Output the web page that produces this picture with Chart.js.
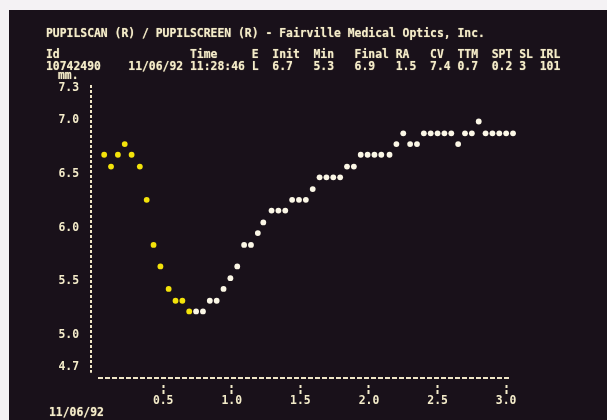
<!DOCTYPE html>
<html>
<head>
<meta charset="utf-8">
<script src="https://cdn.jsdelivr.net/npm/chart.js@4/dist/chart.umd.min.js"></script>
<style>
html, body { margin: 0; padding: 0; background: #fff; }
#wrap { position: relative; width: 607px; height: 420px; overflow: hidden; background: #f4f2f4; }
#screen { position: absolute; left: 9px; top: 10px; width: 598px; height: 410px; background: #19111a; }
#myChart { position: absolute; left: 0; top: 0; }
pre {
    position: absolute; margin: 0;
    font-family: "DejaVu Sans Mono", "Liberation Mono", monospace;
    font-weight: bold; font-size: 11.4px; line-height: 12px;
    color: #f4ecca; text-shadow: 0 0 1px rgba(255, 240, 190, 0.6);
}
</style>
</head>
<body>
<div id="wrap">
    <div id="screen"></div>
    <canvas id="myChart" width="607" height="420"></canvas>
    <pre style="left:46px;top:27px">PUPILSCAN (R) / PUPILSCREEN (R) - Fairville Medical Optics, Inc.</pre>
    <pre style="left:46px;top:48px">Id                   Time     E  Init  Min   Final RA   CV  TTM  SPT SL IRL
10742490    11/06/92 11:28:46 L  6.7   5.3   6.9   1.5  7.4 0.7  0.2 3  101</pre>
    <pre style="left:58px;top:69px">mm.</pre>
    <pre style="left:49px;top:406px">11/06/92</pre>
</div>
<script>
// time (s) and pupil diameter (mm) for each sample
const times = [0.07, 0.12, 0.17, 0.22, 0.27, 0.33, 0.38, 0.43, 0.48, 0.54,
    0.59, 0.64, 0.69, 0.74, 0.79, 0.84, 0.89, 0.94, 0.99, 1.04,
    1.09, 1.14, 1.19, 1.23, 1.29, 1.34, 1.39, 1.44, 1.49, 1.54,
    1.59, 1.64, 1.69, 1.74, 1.79, 1.84, 1.89, 1.94, 1.99, 2.04,
    2.09, 2.15, 2.20, 2.25, 2.30, 2.35, 2.40, 2.45, 2.50, 2.55,
    2.60, 2.65, 2.70, 2.75, 2.80, 2.85, 2.90, 2.95, 3.00, 3.05];
const diameters = [6.68, 6.57, 6.68, 6.78, 6.68, 6.57, 6.26, 5.84, 5.64, 5.43,
    5.32, 5.32, 5.22, 5.22, 5.22, 5.32, 5.32, 5.43, 5.53, 5.64,
    5.84, 5.84, 5.95, 6.05, 6.16, 6.16, 6.16, 6.26, 6.26, 6.26,
    6.36, 6.47, 6.47, 6.47, 6.47, 6.57, 6.57, 6.68, 6.68, 6.68,
    6.68, 6.68, 6.78, 6.88, 6.78, 6.78, 6.88, 6.88, 6.88, 6.88,
    6.88, 6.78, 6.88, 6.88, 6.99, 6.88, 6.88, 6.88, 6.88, 6.88];
const constrictionSamples = 13; // first samples shown in yellow
const xTicks = [0.5, 1.0, 1.5, 2.0, 2.5, 3.0];
const yTicks = [4.7, 5.0, 5.5, 6.0, 6.5, 7.0, 7.3];

const textColor = '#f4ecca';
const axisColor = '#efe6c6';
const monoFont = { family: '"DejaVu Sans Mono", "Liberation Mono", monospace', size: 11.4, weight: 'bold' };

const points = times.map((t, i) => ({ x: t, y: diameters[i] }));

// the screen draws its axes as dotted character lines, Chart.js borders are solid
const dashedAxes = {
    id: 'dashedAxes',
    beforeDatasetsDraw(chart) {
        const { ctx, chartArea, scales } = chart;
        ctx.save();
        ctx.strokeStyle = axisColor;
        ctx.lineWidth = 2;
        ctx.setLineDash([3, 2]);
        ctx.beginPath();
        ctx.moveTo(chartArea.left, chartArea.top);
        ctx.lineTo(chartArea.left, scales.y.getPixelForValue(4.65));
        ctx.stroke();
        ctx.setLineDash([5, 2]);
        ctx.beginPath();
        ctx.moveTo(scales.x.getPixelForValue(0.025), chartArea.bottom);
        ctx.lineTo(chartArea.right, chartArea.bottom);
        ctx.stroke();
        ctx.restore();
    }
};

const ctx = document.getElementById('myChart').getContext('2d');
new Chart(ctx, {
    type: 'scatter',
    data: {
        datasets: [{
            data: points.slice(0, constrictionSamples),
            backgroundColor: '#f3e30a',
            borderWidth: 0,
            radius: 2.9,
            clip: false,
        }, {
            data: points.slice(constrictionSamples),
            backgroundColor: '#fbf7e6',
            borderWidth: 0,
            radius: 2.9,
            clip: false,
        }]
    },
    plugins: [dashedAxes],
    options: {
        responsive: false,
        animation: false,
        devicePixelRatio: 1,
        layout: { padding: { left: 51, right: 97, top: 85, bottom: 12 } },
        plugins: {
            legend: { display: false },
            tooltip: { enabled: false },
        },
        scales: {
            x: {
                type: 'linear',
                position: 'bottom',
                min: -0.026,
                max: 3.028,
                afterBuildTicks: scale => { scale.ticks = xTicks.map(v => ({ value: v })); },
                afterFit: scale => { scale.height = 30; },
                ticks: {
                    color: textColor,
                    font: monoFont,
                    padding: 0,
                    maxRotation: 0,
                    callback: v => v.toFixed(1),
                },
                grid: {
                    drawOnChartArea: false,
                    drawTicks: true,
                    tickLength: 16,
                    tickWidth: 2,
                    tickColor: textColor,
                    tickBorderDash: [0, 7, 3, 2, 4, 40],
                },
                border: { display: false },
            },
            y: {
                type: 'linear',
                position: 'left',
                min: 4.6,
                max: 7.33,
                afterBuildTicks: scale => { scale.ticks = yTicks.map(v => ({ value: v })); },
                afterFit: scale => { scale.width = 40; },
                ticks: {
                    color: textColor,
                    font: monoFont,
                    padding: 12,
                    callback: v => v.toFixed(1),
                },
                grid: { drawOnChartArea: false, drawTicks: false },
                border: { display: false },
            }
        }
    }
});
</script>
</body>
</html>
